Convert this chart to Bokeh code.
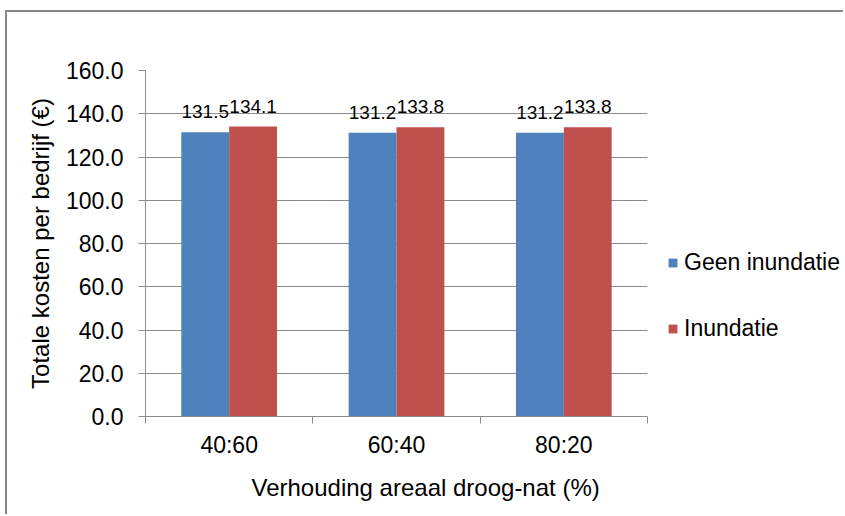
from bokeh.plotting import figure
from bokeh.models import (Range1d, FixedTicker, NumeralTickFormatter, ColumnDataSource,
                          LabelSet, Legend, LegendItem, BoxAnnotation, Title)
from bokeh.core.properties import value
from bokeh.embed import file_html
from bokeh.resources import INLINE

categories = ["40:60", "60:40", "80:20"]
series_names = ["Geen inundatie", "Inundatie"]
geen_inundatie = [131.5, 131.2, 131.2]
inundatie = [134.1, 133.8, 133.8]
y_ticks = [0, 20, 40, 60, 80, 100, 120, 140, 160]
colors = ["#4F81BD", "#C0504D"]

FONT = "Liberation Sans"
GRID = "#8c8c8c"

W, H = 838, 504
n = len(categories)
# frame spans to the right edge; categories occupy the left 502 px of 700 px
x_end = n * 700 / 502
p = figure(width=W, height=H, output_backend="svg", toolbar_location=None,
           x_range=Range1d(0, x_end), y_range=Range1d(0, 160),
           min_border_left=138, min_border_right=0, min_border_top=58,
           min_border_bottom=100)
p.styles = {"margin-left": "7px", "margin-top": "12px",
            "box-shadow": "-2px -2px 0 0 #878787"}
p.outline_line_color = None
p.background_fill_color = "white"
p.border_fill_color = "white"

bw = 0.286
centers = [i + 0.5 for i in range(n)]
renderers = []
for k, vals in enumerate([geen_inundatie, inundatie]):
    xs = [c + (k - 0.5) * bw for c in centers]
    src = ColumnDataSource(dict(x=xs, top=vals, lab=[f"{v:.1f}" for v in vals]))
    r = p.vbar(x="x", top="top", width=bw, bottom=0, source=src,
               fill_color=colors[k], line_color=None)
    renderers.append(r)
    p.add_layout(LabelSet(x="x", y="top", text="lab", source=src, text_align="center",
                          text_baseline="alphabetic", y_offset=14,
                          text_font=value(FONT), text_font_size=value("19px"),
                          text_color="black"))

# axes
p.xaxis.bounds = (0, n)
p.xaxis.ticker = FixedTicker(ticks=centers, minor_ticks=list(range(n + 1)))
p.xaxis.major_label_overrides = {c: cat for c, cat in zip(centers, categories)}
p.xaxis.major_tick_line_color = None
p.xaxis.major_tick_out = 0
p.xaxis.major_tick_in = 0
p.xaxis.minor_tick_line_color = GRID
p.xaxis.minor_tick_out = 7
p.xaxis.minor_tick_in = 0
p.xaxis.major_label_standoff = 8

p.yaxis.ticker = FixedTicker(ticks=y_ticks)
p.yaxis.formatter = NumeralTickFormatter(format="0.0")
p.yaxis.major_tick_line_color = GRID
p.yaxis.major_tick_out = 7
p.yaxis.major_tick_in = 0
p.yaxis.minor_tick_line_color = None
p.yaxis.major_label_standoff = 15
p.yaxis.axis_label = "Totale kosten per bedrijf (€)"
p.yaxis.axis_label_standoff = 9

for ax in (p.xaxis[0], p.yaxis[0]):
    ax.axis_line_color = GRID
    ax.major_label_text_font = FONT
    ax.major_label_text_font_size = "23px"
    ax.major_label_text_color = "black"
    ax.axis_label_text_font = FONT
    ax.axis_label_text_font_size = "24px"
    ax.axis_label_text_font_style = "normal"
    ax.axis_label_text_color = "black"

# x-axis title
p.add_layout(Title(text="Verhouding  areaal droog-nat (%)", align="left", offset=106,
                   standoff=23, text_font=FONT, text_font_size="24px",
                   text_font_style="normal", text_color="black"), "below")

p.xgrid.grid_line_color = None
p.ygrid.grid_line_color = GRID
p.ygrid.ticker = FixedTicker(ticks=y_ticks)

# blank the area right of the plot area (legend space)
p.add_layout(BoxAnnotation(left=n, fill_color="white", fill_alpha=1.0,
                           line_color=None, line_alpha=0))

legend = Legend(items=[LegendItem(label=s, renderers=[r]) for s, r in zip(series_names, renderers)],
                location=(522, 74), glyph_width=11, glyph_height=11, label_standoff=6,
                spacing=39, padding=0, margin=0, border_line_color=None,
                background_fill_alpha=0, label_text_font=FONT, label_text_font_size="23px",
                label_text_color="black")
p.add_layout(legend)

open("out.html", "w").write(file_html(p, INLINE))
